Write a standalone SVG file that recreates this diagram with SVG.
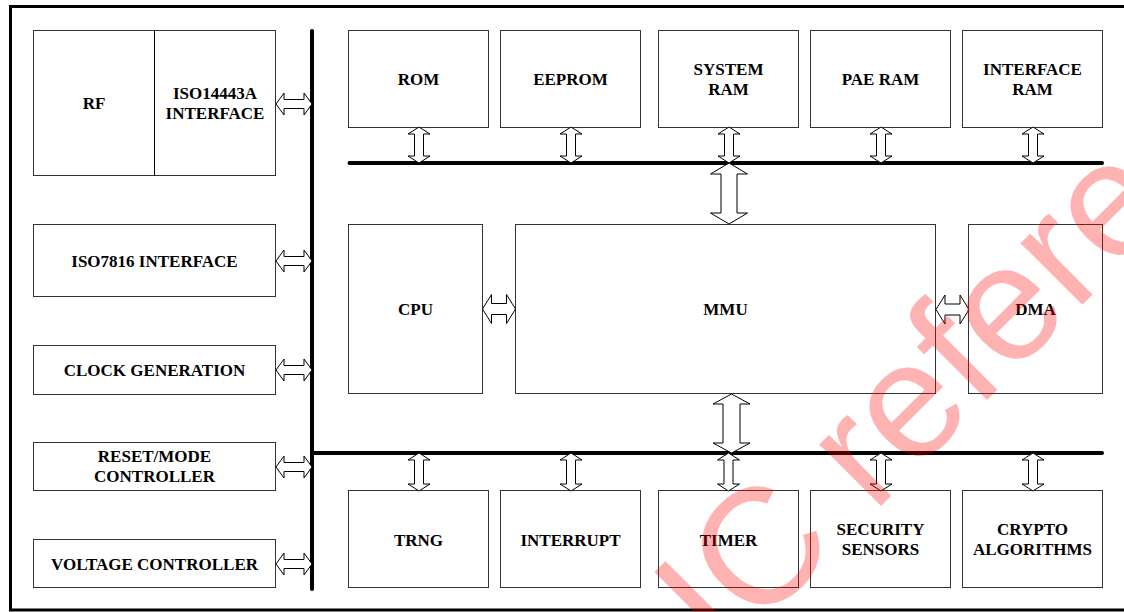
<svg xmlns="http://www.w3.org/2000/svg" width="1124" height="612" viewBox="0 0 1124 612">
  <style>
    .box { fill: #ffffff; stroke: #333333; stroke-width: 1; }
    .lbl { font-family: "Liberation Serif", "Times New Roman", serif; font-weight: bold; font-size: 17px; fill: #000000; text-anchor: middle; }
    .arr { fill: #ffffff; stroke: #000000; stroke-width: 1; stroke-linejoin: miter; }
    .bus { stroke: #000000; stroke-width: 4; stroke-linecap: round; fill: none; }
    .wm { font-family: "Liberation Sans", Arial, sans-serif; font-size: 165px; fill: #ff0000; fill-opacity: 0.3; }
  </style>
  <defs>
    <polygon id="hS" class="arr" points="-18,0 -10,-11 -10,-4.5 10,-4.5 10,-11 18,0 10,11 10,4.5 -10,4.5 -10,11"/>
    <polygon id="hM" class="arr" points="-16.5,0 -7.5,-14.5 -7.5,-5.5 7.5,-5.5 7.5,-14.5 16.5,0 7.5,14.5 7.5,5.5 -7.5,5.5 -7.5,14.5"/>
    <polygon id="vT" class="arr" points="0,-18 11,-11 4.5,-11 4.5,11 11,11 0,18 -11,11 -4.5,11 -4.5,-11 -11,-11"/>
    <polygon id="vB" class="arr" points="0,-19 11,-12 4.5,-12 4.5,12 11,12 0,19 -11,12 -4.5,12 -4.5,-12 -11,-12"/>
  </defs>
  <rect x="0" y="0" width="1124" height="612" fill="#ffffff"/>
  <rect x="10.5" y="6.5" width="1130" height="603.5" fill="none" stroke="#000000" stroke-width="3"/>

  <g id="rf-iso14443a">
    <rect class="box" x="33.5" y="30.5" width="242" height="145"/>
    <line x1="154.5" y1="30.5" x2="154.5" y2="175.5" stroke="#000000" stroke-width="1"/>
    <text class="lbl" x="94" y="109">RF</text>
    <text class="lbl" x="215" y="99">ISO14443A</text>
    <text class="lbl" x="215" y="119">INTERFACE</text>
  </g>
  <g id="iso7816">
    <rect class="box" x="33.5" y="224.5" width="242" height="72"/>
    <text class="lbl" x="154.5" y="267">ISO7816 INTERFACE</text>
  </g>
  <g id="clock">
    <rect class="box" x="33.5" y="345.5" width="242" height="49"/>
    <text class="lbl" x="154.5" y="376">CLOCK GENERATION</text>
  </g>
  <g id="reset">
    <rect class="box" x="33.5" y="442.5" width="242" height="48"/>
    <text class="lbl" x="154.5" y="462">RESET/MODE</text>
    <text class="lbl" x="154.5" y="482">CONTROLLER</text>
  </g>
  <g id="voltage">
    <rect class="box" x="33.5" y="539.5" width="242" height="48"/>
    <text class="lbl" x="154.5" y="570">VOLTAGE CONTROLLER</text>
  </g>

  <g id="rom">
    <rect class="box" x="348.5" y="30.5" width="140" height="97"/>
    <text class="lbl" x="418.5" y="84.5">ROM</text>
  </g>
  <g id="eeprom">
    <rect class="box" x="500.5" y="30.5" width="140" height="97"/>
    <text class="lbl" x="570.5" y="84.5">EEPROM</text>
  </g>
  <g id="sysram">
    <rect class="box" x="658.5" y="30.5" width="140" height="97"/>
    <text class="lbl" x="728.5" y="74.5">SYSTEM</text>
    <text class="lbl" x="728.5" y="94.5">RAM</text>
  </g>
  <g id="paeram">
    <rect class="box" x="810.5" y="30.5" width="140" height="97"/>
    <text class="lbl" x="880.5" y="84.5">PAE RAM</text>
  </g>
  <g id="ifram">
    <rect class="box" x="962.5" y="30.5" width="140" height="97"/>
    <text class="lbl" x="1032.5" y="74.5">INTERFACE</text>
    <text class="lbl" x="1032.5" y="94.5">RAM</text>
  </g>

  <g id="cpu">
    <rect class="box" x="348.5" y="224.5" width="134" height="169"/>
    <text class="lbl" x="415.5" y="315">CPU</text>
  </g>
  <g id="mmu">
    <rect class="box" x="515.5" y="224.5" width="420" height="169"/>
    <text class="lbl" x="725.5" y="315">MMU</text>
  </g>
  <g id="dma">
    <rect class="box" x="968.5" y="224.5" width="134" height="169"/>
    <text class="lbl" x="1035.5" y="315">DMA</text>
  </g>

  <g id="trng">
    <rect class="box" x="348.5" y="490.5" width="140" height="97"/>
    <text class="lbl" x="418.5" y="545.5">TRNG</text>
  </g>
  <g id="interrupt">
    <rect class="box" x="500.5" y="490.5" width="140" height="97"/>
    <text class="lbl" x="570.5" y="545.5">INTERRUPT</text>
  </g>
  <g id="timer">
    <rect class="box" x="658.5" y="490.5" width="140" height="97"/>
    <text class="lbl" x="728.5" y="545.5">TIMER</text>
  </g>
  <g id="security">
    <rect class="box" x="810.5" y="490.5" width="140" height="97"/>
    <text class="lbl" x="880.5" y="535">SECURITY</text>
    <text class="lbl" x="880.5" y="555">SENSORS</text>
  </g>
  <g id="crypto">
    <rect class="box" x="962.5" y="490.5" width="140" height="97"/>
    <text class="lbl" x="1032.5" y="535">CRYPTO</text>
    <text class="lbl" x="1032.5" y="555">ALGORITHMS</text>
  </g>

  <g id="connectors">
    <line class="bus" x1="312" y1="31" x2="312" y2="589"/>
    <line class="bus" x1="349.5" y1="163" x2="1102" y2="163"/>
    <line class="bus" x1="312" y1="453" x2="1102" y2="453"/>

    <use href="#hS" transform="translate(294,104)"/>
    <use href="#hS" transform="translate(294,261)"/>
    <use href="#hS" transform="translate(294,370)"/>
    <use href="#hS" transform="translate(294,467)"/>
    <use href="#hS" transform="translate(294,564)"/>

    <use href="#hM" transform="translate(499,309)"/>
    <use href="#hM" transform="translate(952.5,309.5)"/>

    <use href="#vT" transform="translate(419,145)"/>
    <use href="#vT" transform="translate(571,145)"/>
    <use href="#vT" transform="translate(729,145)"/>
    <use href="#vT" transform="translate(881,145)"/>
    <use href="#vT" transform="translate(1033,145)"/>

    <use href="#vB" transform="translate(419,472)"/>
    <use href="#vB" transform="translate(571,472)"/>
    <use href="#vB" transform="translate(728.5,472)"/>
    <use href="#vB" transform="translate(881,472)"/>
    <use href="#vB" transform="translate(1033,472)"/>

    <polygon class="arr" points="729,163 747.5,174 737,174 737,213 747.5,213 729,224 710.5,213 721,213 721,174 710.5,174"/>
    <polygon class="arr" points="731.5,394 750,404 740,404 740,443 750,443 731.5,453 713,443 723,443 723,404 713,404"/>
  </g>

  <text class="wm" transform="translate(724,663) rotate(-45)">IC reference</text>
</svg>
